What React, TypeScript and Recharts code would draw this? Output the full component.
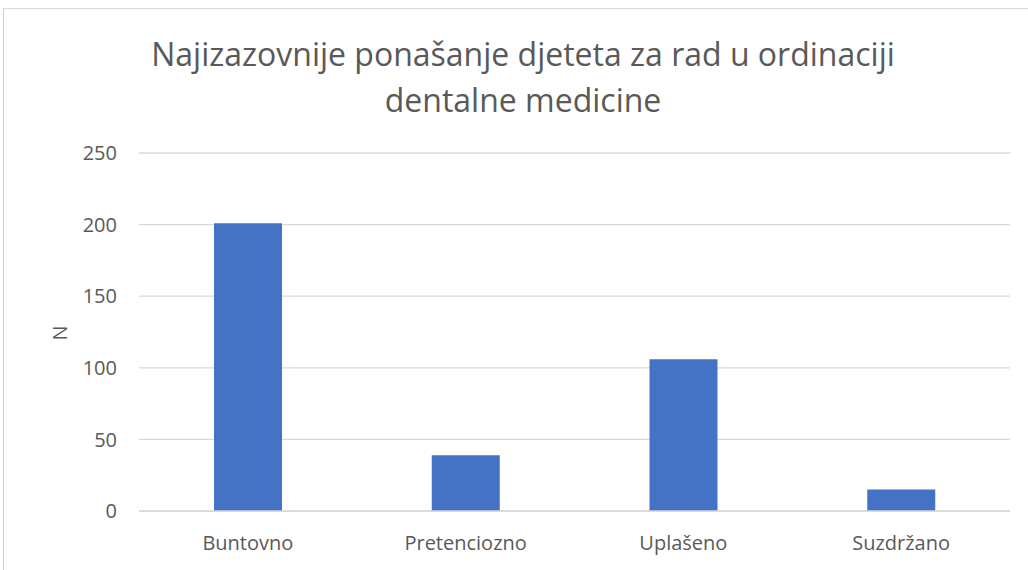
import { BarChart, Bar, XAxis, YAxis, CartesianGrid } from "recharts";

const categories = ["Buntovno", "Pretenciozno", "Uplašeno", "Suzdržano"];
const counts = [201, 39, 106, 15];
const yTicks = [0, 50, 100, 150, 200, 250];

const data = categories.map((name, i) => ({ name, n: counts[i] }));

const FONT = "'Open Sans', 'Noto Sans', sans-serif";
const TEXT = "#595959";

export default function App() {
  return (
    <div style={{ position: "absolute", left: 0, top: 0, width: 1028, height: 570, background: "#fff", fontFamily: FONT, overflow: "hidden" }}>
      {/* chart frame: only the left and top edges show in the crop */}
      <div style={{ position: "absolute", left: 3, top: 8, width: 1040, height: 580, borderLeft: "1px solid #d0d0d0", borderTop: "1px solid #d9d9d9", boxSizing: "border-box" }} />
      <div style={{ position: "absolute", left: 0, top: 31, width: 1046, textAlign: "center", color: TEXT, fontSize: 32, fontWeight: 400, lineHeight: "46px" }}>
        Najizazovnije ponašanje djeteta za rad u ordinaciji<br />dentalne medicine
      </div>
      <div style={{ position: "absolute", left: 48, top: 320, width: 24, height: 26, color: TEXT, fontSize: 20, transform: "rotate(-90deg)", textAlign: "center", lineHeight: "26px" }}>
        N
      </div>
      <div style={{ position: "absolute", left: 0, top: 0 }}>
        <BarChart width={1028} height={570} data={data} margin={{ top: 153, right: 18, left: 79, bottom: 19 }}>
          <CartesianGrid vertical={false} stroke="#d9d9d9" strokeWidth={1.3} />
          <XAxis dataKey="name" height={40} tickLine={false} axisLine={{ stroke: "#d9d9d9", strokeWidth: 1.3 }} tickSize={0} tickMargin={25}
            tick={{ fill: TEXT, fontSize: 20, fontFamily: FONT }} />
          <YAxis width={60} domain={[0, 250]} ticks={yTicks} tickLine={false} axisLine={false} tickSize={0} tickMargin={22}
            tick={{ fill: TEXT, fontSize: 20, fontFamily: FONT }} />
          <Bar dataKey="n" fill="#4472C4" barSize={68} isAnimationActive={false} />
        </BarChart>
      </div>
    </div>
  );
}
